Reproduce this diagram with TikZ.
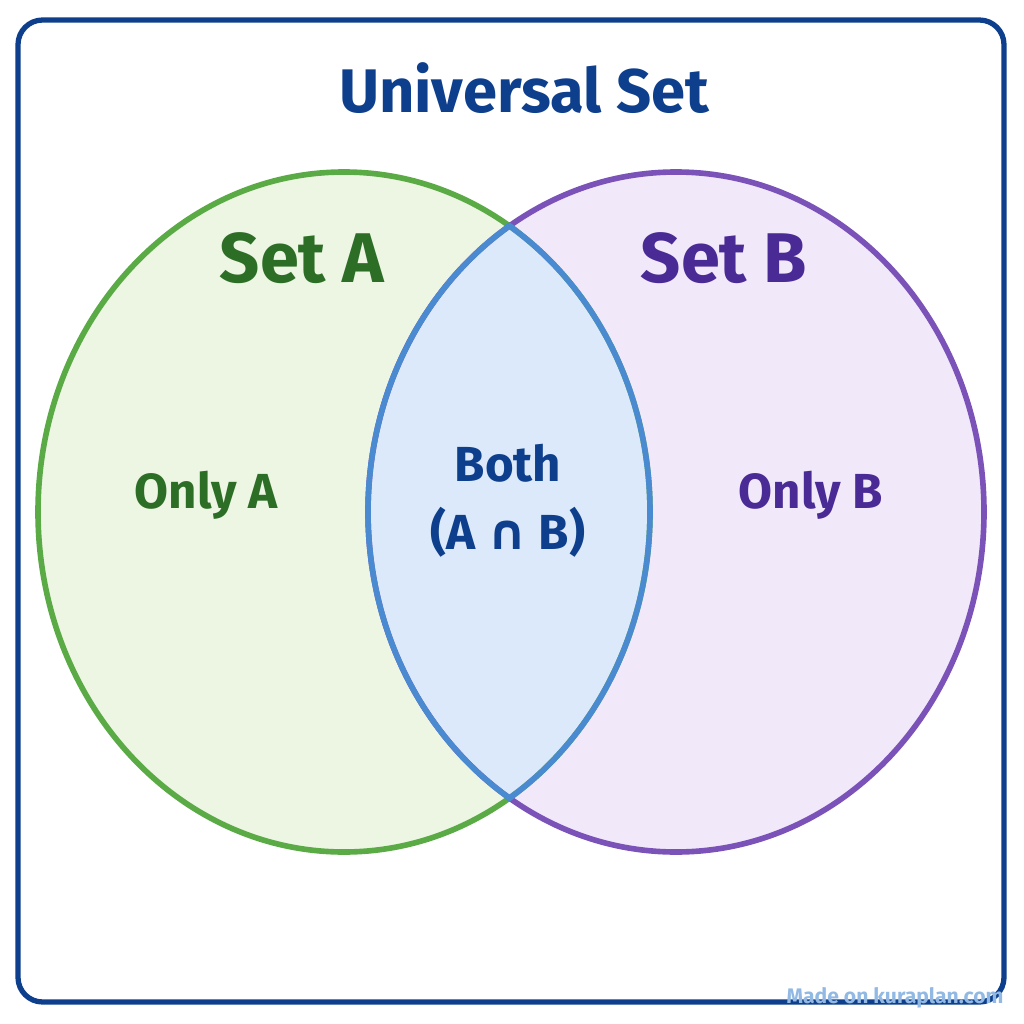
\documentclass[tikz,border=0pt]{standalone}
\usepackage{fontspec}
\setmainfont{Fira Sans}
\newfontfamily\symfont{DejaVu Sans}
\usetikzlibrary{positioning}
\definecolor{frameblue}{HTML}{0E3F8C}
\definecolor{greenline}{HTML}{5AAA46}
\definecolor{greenfill}{HTML}{EDF5E3}
\definecolor{greentext}{HTML}{2D6E27}
\definecolor{purpleline}{HTML}{7B52B8}
\definecolor{purplefill}{HTML}{F1E8FA}
\definecolor{purpletext}{HTML}{4A2A94}
\definecolor{lensline}{HTML}{4A8AD0}
\definecolor{lensfill}{HTML}{DBE9FA}
\begin{document}
\begin{tikzpicture}[x=0.01cm,y=-0.01cm,
  title/.style={font=\bfseries\fontsize{17.5}{21}\selectfont,text=frameblue},
  setname/.style={font=\bfseries\fontsize{20}{24}\selectfont},
  region/.style={font=\bfseries\fontsize{14}{17}\selectfont}]

\useasboundingbox (0,0) rectangle (1024,1024);
\draw[frameblue,line width=1.5pt,rounded corners=7pt] (18,20) rectangle (1004,1002);

% the two sets
\fill[greenfill] (344,512) ellipse [x radius=306,y radius=340];
\fill[purplefill] (676,512) ellipse [x radius=308,y radius=340];
\begin{scope}
  \clip (344,512) ellipse [x radius=306,y radius=340];
  \fill[lensfill] (676,512) ellipse [x radius=308,y radius=340];
\end{scope}
\draw[greenline,line width=1.6pt] (344,512) ellipse [x radius=306,y radius=340];
\draw[purpleline,line width=1.6pt] (676,512) ellipse [x radius=308,y radius=340];
\begin{scope}
  \clip (344,512) ellipse [x radius=309,y radius=343];
  \draw[lensline,line width=1.6pt] (676,512) ellipse [x radius=308,y radius=340];
\end{scope}
\begin{scope}
  \clip (676,512) ellipse [x radius=311,y radius=343];
  \draw[lensline,line width=1.6pt] (344,512) ellipse [x radius=306,y radius=340];
\end{scope}

\node[title] (universe) at (524,88) {Universal Set};
\node[setname,text=greentext] (seta) at (302,258) {Set A};
\node[setname,text=purpletext] (setb) at (724,258) {Set B};
\node[region,text=greentext] (onlya) at (206,495) {Only A};
\node[region,text=purpletext] (onlyb) at (811,495) {Only B};
\node[region,text=frameblue] (both) at (508,463) {Both};
\node[region,text=frameblue,below=0pt of both] (cap) {(A {\symfont ∩} B)};
\node[font=\bfseries\fontsize{6}{7}\selectfont,text=lensline!60] (mark) at (895,998) {Made on kuraplan.com};
\end{tikzpicture}
\end{document}
